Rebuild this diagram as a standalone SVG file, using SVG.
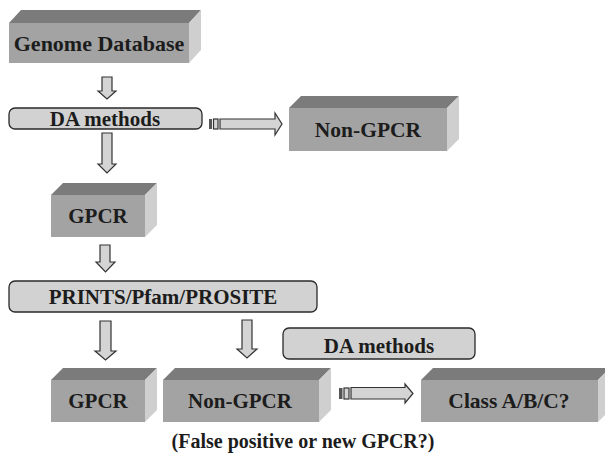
<svg xmlns="http://www.w3.org/2000/svg" width="605" height="455" viewBox="0 0 605 455">
<style>
.front{fill:#a3a3a3}
.top{fill:#7b7b7b}
.side{fill:#cfcfcf}
.rbox{fill:#d2d2d2;stroke:#2a2a2a;stroke-width:1.3}
.arr{fill:#d4d4d4;stroke:#333;stroke-width:1.2}
.bar{fill:#555}
.t{font-family:"Liberation Serif","Times New Roman",serif;font-weight:bold;fill:#1c1c1c;text-anchor:middle}
</style>
<rect width="605" height="455" fill="#fff"/>
<g id="genome">
<rect class="front" x="9" y="23" width="180" height="40"/>
<polygon class="top" points="9,23 21,10 201,10 189,23"/>
<polygon class="side" points="189,23 201,10 201,50 189,63"/>
<text class="t" x="99" y="51" font-size="22">Genome Database</text>
</g>
<g id="da1">
<rect class="rbox" x="9" y="108" width="193" height="21" rx="6"/>
<text class="t" x="105" y="126" font-size="21">DA methods</text>
</g>
<g id="nongpcr1">
<rect class="front" x="289" y="108" width="158" height="43"/>
<polygon class="top" points="289,108 301,96 459,96 447,108"/>
<polygon class="side" points="447,108 459,96 459,139 447,151"/>
<text class="t" x="368" y="137" font-size="21.5">Non-GPCR</text>
</g>
<g id="gpcr1">
<rect class="front" x="51" y="195" width="94" height="42"/>
<polygon class="top" points="51,195 63,183 157,183 145,195"/>
<polygon class="side" points="145,195 157,183 157,225 145,237"/>
<text class="t" x="98" y="223" font-size="21">GPCR</text>
</g>
<g id="prints">
<rect class="rbox" x="9" y="281" width="308" height="31" rx="6"/>
<text class="t" x="163" y="304" font-size="21">PRINTS/Pfam/PROSITE</text>
</g>
<g id="da2">
<rect class="rbox" x="283" y="328" width="192" height="31" rx="6"/>
<text class="t" x="379" y="353" font-size="21">DA methods</text>
</g>
<g id="gpcr2">
<rect class="front" x="51" y="380" width="94" height="42"/>
<polygon class="top" points="51,380 63,368 157,368 145,380"/>
<polygon class="side" points="145,380 157,368 157,410 145,422"/>
<text class="t" x="98" y="408" font-size="21">GPCR</text>
</g>
<g id="nongpcr2">
<rect class="front" x="163" y="380" width="156" height="42"/>
<polygon class="top" points="163,380 175,368 331,368 319,380"/>
<polygon class="side" points="319,380 331,368 331,410 319,422"/>
<text class="t" x="240" y="408" font-size="21">Non-GPCR</text>
</g>
<g id="classabc">
<rect class="front" x="421" y="380" width="177" height="42"/>
<polygon class="top" points="421,380 433,368 610,368 598,380"/>
<polygon class="side" points="598,380 610,368 610,410 598,422"/>
<text class="t" x="509" y="408" font-size="21.5">Class A/B/C?</text>
</g>
<g id="caption">
<text class="t" x="303" y="448" font-size="20">(False positive or new GPCR?)</text>
</g>
<g id="connectors">
<polygon class="arr" points="102,77 112,77 112,91 116,91 107,99 98,91 102,91"/>
<polygon class="arr" points="102,133 112,133 112,164 116,164 107,173 98,164 102,164"/>
<polygon class="arr" points="100,245 110,245 110,262 115,262 105.5,272 96,262 100,262"/>
<polygon class="arr" points="100,321 111,321 111,351 116,351 105.5,360 95,351 100,351"/>
<polygon class="arr" points="242,320 252,320 252,349 257,349 247,358 237,349 242,349"/>
<rect class="bar" x="209" y="119" width="3" height="10"/>
<rect class="arr" x="213.5" y="119" width="4.5" height="10"/>
<polygon class="arr" points="220,119 275,119 275,113 282,124 275,135 275,129 220,129"/>
<rect class="bar" x="339" y="388" width="3.5" height="11"/>
<rect class="arr" x="344" y="388" width="5" height="11"/>
<polygon class="arr" points="351,387.5 405,387.5 405,384 413,393.5 405,403 405,399 351,399"/>
</g>
</svg>
